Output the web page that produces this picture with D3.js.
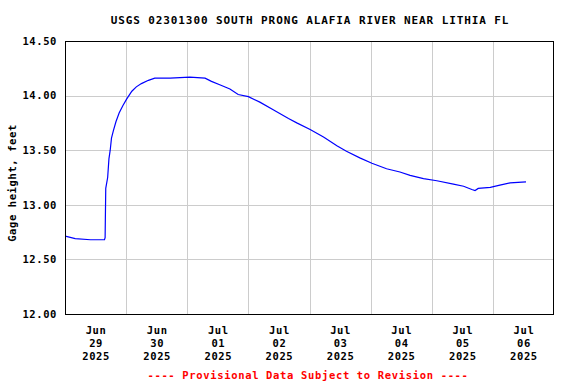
<!DOCTYPE html>
<html><head><meta charset="utf-8">
<script src="https://cdn.jsdelivr.net/npm/d3@7"></script>
<style>
body{margin:0;background:#fff;}
text{font-family:"DejaVu Sans Mono","Liberation Mono",monospace;font-weight:bold;}
</style></head>
<body><svg id="c" width="576" height="384"></svg>
<script>
const title = "USGS 02301300 SOUTH PRONG ALAFIA RIVER NEAR LITHIA FL";
const yLabel = "Gage height, feet";
const footer = "---- Provisional Data Subject to Revision ----";
const yTicks = [12.0, 12.5, 13.0, 13.5, 14.0, 14.5];
const xDomain = ["2025-06-29T00:00", "2025-07-07T00:00"];
const dayLabels = [["Jun","29","2025"],["Jun","30","2025"],["Jul","01","2025"],["Jul","02","2025"],["Jul","03","2025"],["Jul","04","2025"],["Jul","05","2025"],["Jul","06","2025"]];
const times = ["2025-06-29T00:00","2025-06-29T00:30","2025-06-29T04:00","2025-06-29T10:00","2025-06-29T15:30","2025-06-29T15:45","2025-06-29T16:00","2025-06-29T16:45","2025-06-29T17:15","2025-06-29T17:45","2025-06-29T18:15","2025-06-29T19:00","2025-06-29T20:00","2025-06-29T21:15","2025-06-29T22:45","2025-06-30T00:15","2025-06-30T02:15","2025-06-30T04:00","2025-06-30T06:00","2025-06-30T08:45","2025-06-30T11:15","2025-06-30T17:15","2025-07-01T01:00","2025-07-01T07:00","2025-07-01T09:30","2025-07-01T12:45","2025-07-01T16:45","2025-07-01T20:00","2025-07-02T00:00","2025-07-02T04:30","2025-07-02T09:45","2025-07-02T15:45","2025-07-02T19:00","2025-07-03T00:15","2025-07-03T05:30","2025-07-03T10:45","2025-07-03T14:30","2025-07-03T19:45","2025-07-04T00:30","2025-07-04T06:15","2025-07-04T11:30","2025-07-04T15:30","2025-07-04T20:45","2025-07-05T02:00","2025-07-05T08:30","2025-07-05T12:30","2025-07-05T15:45","2025-07-05T17:00","2025-07-05T18:15","2025-07-05T23:00","2025-07-06T02:45","2025-07-06T06:45","2025-07-06T13:00"];
const values = [12.71,12.71,12.69,12.68,12.68,12.70,13.15,13.25,13.42,13.50,13.61,13.68,13.76,13.84,13.91,13.97,14.04,14.08,14.11,14.14,14.16,14.16,14.17,14.16,14.13,14.10,14.06,14.01,13.99,13.94,13.87,13.79,13.75,13.69,13.62,13.54,13.49,13.43,13.38,13.33,13.30,13.27,13.24,13.22,13.19,13.17,13.14,13.13,13.15,13.16,13.18,13.20,13.21];

const parse = d3.timeParse("%Y-%m-%dT%H:%M");
const data = times.map((t,i)=>({t:parse(t), v:values[i]}));
const svg = d3.select("#c");
const L=65, R=554, T=41, B=314;
const x = d3.scaleTime().domain(xDomain.map(parse)).range([L,R]);
const y = d3.scaleLinear().domain([12,14.5]).range([B,T]);

// grid
const dayTicks = d3.timeDay.range(parse(xDomain[0]), parse(xDomain[1]));
svg.append("g").selectAll("line").data(dayTicks.slice(1)).join("line")
  .attr("x1",d=>Math.round(x(d))+0.5).attr("x2",d=>Math.round(x(d))+0.5)
  .attr("y1",T).attr("y2",B).attr("stroke","#cccccc").attr("stroke-width",1);
svg.append("g").selectAll("line").data(yTicks).join("line")
  .attr("x1",L).attr("x2",R)
  .attr("y1",d=>Math.round(y(d))+0.5).attr("y2",d=>Math.round(y(d))+0.5)
  .attr("stroke","#cccccc").attr("stroke-width",1);

// y axis labels
const ya = d3.axisLeft(y).tickValues(yTicks).tickSize(0).tickPadding(8).tickFormat(d3.format(".2f"));
const yg = svg.append("g").attr("transform",`translate(${L},0)`).call(ya);
yg.select(".domain").remove();
yg.selectAll("text").attr("font-size",10.5).attr("letter-spacing",0.6).attr("fill","#000")
  .style("font-family","DejaVu Sans Mono").style("font-weight","bold");

// x axis labels at noon
const noon = dayTicks.map(d=>d3.timeHour.offset(d,12));
const xa = d3.axisBottom(x).tickValues(noon).tickSize(0).tickFormat(()=>"");
const xg = svg.append("g").attr("transform",`translate(0,${B})`).call(xa);
xg.select(".domain").remove();
xg.selectAll(".tick text").each(function(d,i){
  const t = d3.select(this).attr("y",0).attr("dy",null).attr("font-size",10.5)
    .attr("letter-spacing",0.6).attr("fill","#000")
    .style("font-family","DejaVu Sans Mono").style("font-weight","bold");
  dayLabels[i].forEach((s,k)=>t.append("tspan").attr("x",0).attr("y",20+13*k).text(s));
});

// line
svg.append("path").datum(data)
  .attr("d",d3.line().x(d=>x(d.t)).y(d=>y(d.v)))
  .attr("fill","none").attr("stroke","#0000ff").attr("stroke-width",1.2);

// frame
svg.append("rect").attr("x",L+0.5).attr("y",T+0.5).attr("width",R-L-1).attr("height",B-T)
  .attr("fill","none").attr("stroke","#000").attr("stroke-width",1);

svg.append("text").attr("x",310).attr("y",23.5).attr("text-anchor","middle")
  .attr("font-size",11).attr("letter-spacing",0.9).text(title);
svg.append("text").attr("transform","translate(16,183) rotate(-90)").attr("text-anchor","middle")
  .attr("font-size",10.5).attr("letter-spacing",0.6).text(yLabel);
svg.append("text").attr("x",308).attr("y",379).attr("text-anchor","middle")
  .attr("font-size",10.5).attr("letter-spacing",0.66).attr("fill","#ff0000").text(footer);
</script></body></html>
